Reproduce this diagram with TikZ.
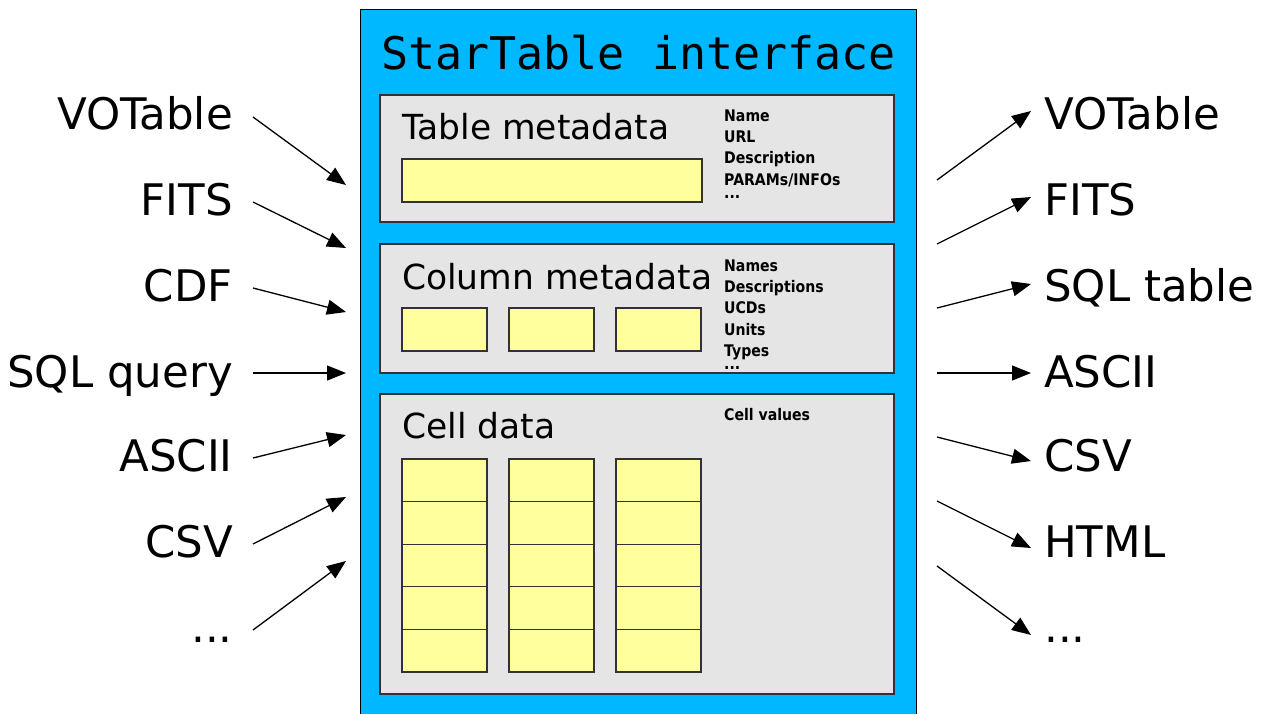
\documentclass[tikz,border=0pt]{standalone}
\usepackage{fontspec}
\setmainfont{DejaVu Sans}
\newfontfamily\monofnt{DejaVu Sans Mono}
\newfontfamily\smallfnt[FakeStretch=0.88]{DejaVu Sans}
\usetikzlibrary{arrows.meta}
\definecolor{ifblue}{RGB}{0,184,255}
\definecolor{boxgray}{RGB}{229,229,229}
\definecolor{cellyel}{RGB}{255,255,158}
\definecolor{edgegray}{RGB}{50,50,50}
\newcommand\threedots{...}
\tikzset{
  fmt/.style={inner sep=0pt, font=\fontsize{43.5}{50}\selectfont},
  section/.style={draw=edgegray, line width=1.3pt, fill=boxgray},
  cell/.style={draw=edgegray, line width=1.2pt, fill=cellyel},
  sectitle/.style={inner sep=0pt, anchor=base west, font=\fontsize{34.5}{40}\selectfont},
  small/.style={inner sep=0pt, anchor=base west, font=\smallfnt\fontsize{16}{17}\selectfont\bfseries},
  conn/.style={line width=1.3pt, -{Triangle[length=19pt,width=15pt]}},
}
\begin{document}
\begin{tikzpicture}[x=1pt,y=-1pt]
\useasboundingbox (0,0) rectangle (1265,713);
\begin{scope}
\clip (0,0) rectangle (1265,713);
\draw[fill=ifblue, draw=black, line width=1pt] (360,9) rectangle (916,730);
\end{scope}
\node[inner sep=0pt, anchor=base west, font=\fontsize{45}{50}\selectfont\monofnt] (title) at (381,69) {StarTable interface};

% Table metadata
\draw[section] (380,95) rectangle (894,222);
\node[sectitle] (tm) at (402,139) {Table metadata};
\draw[cell] (402,159) rectangle (702,202);
\node[small] (n1) at (724,121) {Name};
\node[small] (n2) at (724,142) {URL};
\node[small] (n3) at (724,163) {Description};
\node[small] (n4) at (724,185) {PARAMs/INFOs};
\node[small] (n5) at (724,198) {\threedots};

% Column metadata
\draw[section] (380,244) rectangle (894,373);
\node[sectitle] (cm) at (402,289) {Column metadata};
\foreach \x in {402,509,616} \draw[cell] (\x,308) rectangle ++(85,43);
\node[small] (c1) at (724,271) {Names};
\node[small] (c2) at (724,292) {Descriptions};
\node[small] (c3) at (724,313) {UCDs};
\node[small] (c4) at (724,335) {Units};
\node[small] (c5) at (724,356) {Types};
\node[small] (c6) at (724,369) {\threedots};

% Cell data
\draw[section] (380,394) rectangle (894,694);
\node[sectitle] (cd) at (402,438) {Cell data};
\node[small] (cv) at (724,420) {Cell values};
\foreach \x in {402,509,616}
  \foreach \y in {459,501.6,544.2,586.8,629.4} \draw[cell] (\x,\y) rectangle ++(85,42.6);

% left labels and arrows
\foreach \name/\txt/\yb/\ys/\ye in {
  la/VOTable/129/117/185,
  lb/FITS/215/202/248,
  lc/CDF/301/288/312,
  ld/SQL query/387/373/373,
  le/ASCII/471/458/435,
  lf/CSV/557/544/497,
  lg/\threedots/642/630/561}{
  \node[fmt, anchor=base east] (\name) at (233,\yb) {\txt};
  \coordinate (\name s) at (253,\ys);
  \coordinate (\name e) at (346,\ye);
  \draw[conn] (\name s) -- (\name e);
}

% right labels and arrows
\foreach \name/\txt/\yb/\ys/\ye in {
  ra/VOTable/129/180/111,
  rb/FITS/215/244/197,
  rc/SQL table/301/308/284,
  rd/ASCII/387/373/373,
  re/CSV/471/437/461,
  rf/HTML/557/501/548,
  rg/\threedots/642/566/635}{
  \node[fmt, anchor=base west] (\name) at (1044,\yb) {\txt};
  \coordinate (\name s) at (937,\ys);
  \coordinate (\name e) at (1031,\ye);
  \draw[conn] (\name s) -- (\name e);
}
\end{tikzpicture}
\end{document}
